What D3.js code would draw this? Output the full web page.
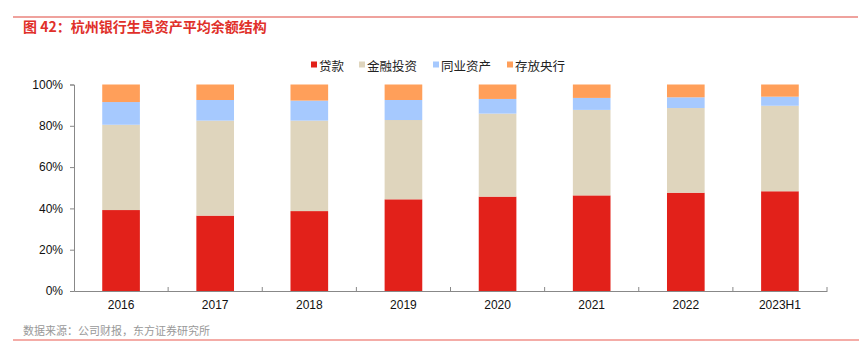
<!DOCTYPE html>
<html>
<head>
<meta charset="utf-8">
<script src="https://cdn.jsdelivr.net/npm/d3@7"></script>
<style>
  body { margin: 0; background: #fff; }
  svg { display: block; font-family: "Liberation Sans", Arial, "Noto Sans CJK SC", sans-serif; }
</style>
</head>
<body>
<svg id="chart"></svg>
<script>
/* データ */
let years = ["2016", "2017", "2018", "2019", "2020", "2021", "2022", "2023H1"];
let seriesNames = ["贷款", "金融投资", "同业资产", "存放央行"];
let loans      = [39.2, 36.5, 38.7, 44.4, 45.7, 46.3, 47.6, 48.3];
let investment = [41.3, 46.0, 43.8, 38.4, 40.2, 41.4, 41.0, 41.4];
let interbank  = [11.0, 10.0,  9.7,  9.7,  7.1,  5.8,  5.2,  4.4];
let centralBank = [8.5, 7.5,  7.8,  7.5,  7.0,  6.5,  6.2,  5.9];
let yTicks = [0, 20, 40, 60, 80, 100];
let colors = ["#e2211a", "#dfd5bd", "#a6c9fe", "#ff9f5a"];

let width = 859, height = 354;
let margin = { left: 74, right: 32, top: 84.5, bottom: 63 };

let svg = d3.select("#chart").attr("width", width).attr("height", height);

/* 表に組み立てる */
let table = years.map((y, i) => ({
  year: y,
  "贷款": loans[i],
  "金融投资": investment[i],
  "同业资产": interbank[i],
  "存放央行": centralBank[i]
}));
let stacked = d3.stack().keys(seriesNames)(table);

let xScale = d3.scaleBand()
  .domain(years)
  .range([margin.left, width - margin.right])
  .paddingInner(0.6)
  .paddingOuter(0.3);
let yScale = d3.scaleLinear()
  .domain([0, 100])
  .range([height - margin.bottom, margin.top]);

/* 上下の線とタイトル */
svg.append("line")
  .attr("x1", 13).attr("x2", 858).attr("y1", 17).attr("y2", 17)
  .attr("stroke", "#e0463c").attr("stroke-width", 1.2);
svg.append("text")
  .attr("x", 23).attr("y", 32)
  .attr("fill", "#e0302a")
  .attr("font-size", 14).attr("font-weight", "bold")
  .attr("font-family", "'Noto Sans CJK SC', sans-serif")
  .text("图 42：杭州银行生息资产平均余额结构");

svg.append("line")
  .attr("x1", 13).attr("x2", 859).attr("y1", 340).attr("y2", 340)
  .attr("stroke", "#f0908a").attr("stroke-width", 1.5);
svg.append("text")
  .attr("x", 23).attr("y", 335)
  .attr("fill", "#999")
  .attr("font-size", 11)
  .attr("font-family", "'Noto Sans CJK SC', sans-serif")
  .text("数据来源：公司财报，东方证券研究所");

/* 棒 */
svg.append("g")
  .selectAll("g")
  .data(stacked)
  .join("g")
  .attr("fill", (d, i) => colors[i])
  .selectAll("rect")
  .data(d => d)
  .join("rect")
  .attr("x", d => xScale(d.data.year))
  .attr("width", xScale.bandwidth())
  .attr("y", d => yScale(d[1]))
  .attr("height", d => yScale(d[0]) - yScale(d[1]));

/* x 軸 */
let band = (width - margin.right - margin.left) / years.length;
let xAxis = svg.append("g")
  .attr("transform", "translate(0," + (height - margin.bottom) + ")")
  .call(d3.axisBottom(xScale).tickSize(0).tickPadding(9));
xAxis.select(".domain").attr("stroke", "#888");
xAxis.selectAll("text").attr("font-size", 12).attr("fill", "#111");
// カテゴリ境界の目盛り
xAxis.selectAll(".sep")
  .data(d3.range(1, years.length + 1))
  .join("line")
  .attr("class", "sep")
  .attr("x1", i => margin.left + i * band)
  .attr("x2", i => margin.left + i * band)
  .attr("y1", 0).attr("y2", -4)
  .attr("stroke", "#888");

/* y 軸 */
let yAxis = svg.append("g")
  .attr("transform", "translate(" + margin.left + ",0)")
  .call(d3.axisLeft(yScale).tickValues(yTicks).tickFormat(d => d + "%").tickSize(4).tickPadding(7));
yAxis.select(".domain").attr("stroke", "#888");
yAxis.selectAll(".tick line").attr("stroke", "#888");
yAxis.selectAll("text").attr("font-size", 12).attr("fill", "#111");

/* 凡例 */
let legendX = [311, 359, 433, 507];
let legend = svg.append("g")
  .selectAll("g")
  .data(seriesNames)
  .join("g")
  .attr("transform", (d, i) => "translate(" + legendX[i] + ",65)");
legend.append("rect")
  .attr("x", 0).attr("y", -3.5).attr("width", 6).attr("height", 6)
  .attr("fill", (d, i) => colors[i]);
legend.append("text")
  .attr("x", 8).attr("y", 0)
  .attr("dominant-baseline", "central")
  .attr("font-size", 12.5)
  .attr("fill", "#222")
  .attr("font-family", "'Noto Sans CJK SC', sans-serif")
  .text(d => d);
</script>
</body>
</html>
